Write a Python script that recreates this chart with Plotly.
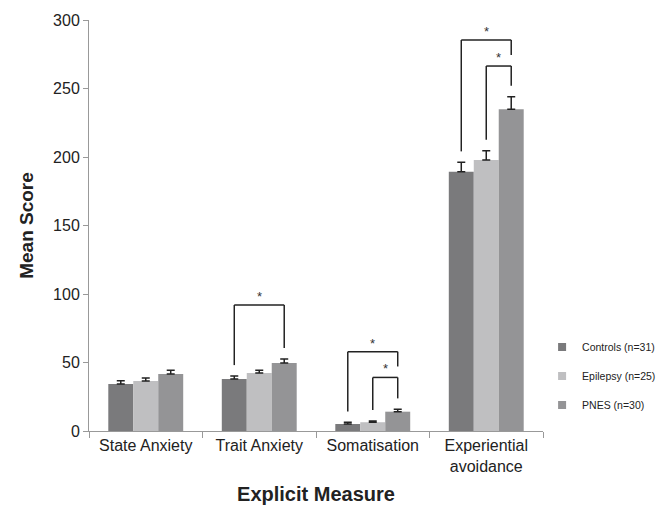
import plotly.graph_objects as go

categories = ["State Anxiety", "Trait Anxiety", "Somatisation", "Experiential<br>avoidance"]
groups = ["Controls (n=31)", "Epilepsy (n=25)", "PNES (n=30)"]
controls = [34.3, 38.0, 5.1, 189.3]
epilepsy = [36.5, 42.3, 6.4, 197.8]
pnes = [41.6, 49.6, 14.1, 234.8]
controls_err = [2.4, 2.1, 1.2, 6.8]
epilepsy_err = [2.2, 2.0, 0.9, 6.8]
pnes_err = [2.7, 3.0, 1.7, 9.2]
colors = ["#7a7a7c", "#bfbfc1", "#949496"]

# significance brackets: category index, group a, group b, bracket level
bracket_cat = [1, 2, 2, 3, 3]
bracket_a = [0, 0, 1, 0, 1]
bracket_b = [2, 2, 2, 2, 2]
bracket_level = [92.0, 57.9, 39.1, 285.4, 266.4]
bracket_label = ["*", "*", "*", "*", "*"]

values = [controls, epilepsy, pnes]
errors = [controls_err, epilepsy_err, pnes_err]

fig = go.Figure()
for i, g in enumerate(groups):
    fig.add_trace(go.Bar(
        x=categories, y=values[i], name=g, marker_color=colors[i],
        marker_line_width=0, showlegend=False,
        error_y=dict(type="data", symmetric=False, array=errors[i],
                     arrayminus=[0] * len(categories), color="#222222",
                     thickness=1.5, width=4),
    ))
# legend entries (small square keys)
for i, g in enumerate(groups):
    fig.add_trace(go.Scatter(
        x=[None], y=[None], mode="markers", name=g, legendgroup=g,
        marker=dict(symbol="square", size=8, color=colors[i]),
    ))

bargap = 0.34
bw = (1 - bargap) / 3
gap = 8.0
line = dict(color="#222222", width=1.5)

def leg_base(k, g):
    c = bracket_cat[k]
    base = values[g][c] + errors[g][c]
    for j in range(len(bracket_cat)):
        if j != k and bracket_cat[j] == c and bracket_level[j] < bracket_level[k] \
                and bracket_a[j] <= g <= bracket_b[j]:
            base = max(base, bracket_level[j])
    return base + gap

for k in range(len(bracket_cat)):
    c = bracket_cat[k]
    xa = c + (bracket_a[k] - 1) * bw
    xb = c + (bracket_b[k] - 1) * bw
    top = bracket_level[k]
    ya = leg_base(k, bracket_a[k])
    yb = leg_base(k, bracket_b[k])
    fig.add_shape(type="line", xref="x", yref="y", x0=xa, x1=xa, y0=ya, y1=top, line=line)
    fig.add_shape(type="line", xref="x", yref="y", x0=xa, x1=xb, y0=top, y1=top, line=line)
    fig.add_shape(type="line", xref="x", yref="y", x0=xb, x1=xb, y0=top, y1=yb, line=line)
    fig.add_annotation(x=(xa + xb) / 2, y=top, xref="x", yref="y", text=bracket_label[k],
                       showarrow=False, yanchor="bottom", yshift=-1,
                       font=dict(size=13, color="#333333"))

font_family = "Arial, 'Liberation Sans', sans-serif"
fig.update_layout(
    width=660, height=500,
    margin=dict(l=81, r=125, t=12, b=77, autoexpand=False),
    paper_bgcolor="white", plot_bgcolor="white",
    barmode="group", bargap=bargap, bargroupgap=0,
    font=dict(family=font_family, color="#222222", size=16),
    legend=dict(x=0.998, y=0.134, xanchor="left", yanchor="middle",
                font=dict(size=10.5, color="#222222"), tracegroupgap=10,
                itemwidth=30, bgcolor="rgba(0,0,0,0)"),
    showlegend=True,
)
fig.update_xaxes(
    showline=True, linecolor="#999999", linewidth=1,
    ticks="outside", tickson="boundaries", ticklen=6, tickcolor="#999999",
    tickfont=dict(size=16, color="#222222"),
    title=dict(text="<b>Explicit Measure</b>", font=dict(size=20, color="#222222"), standoff=12),
)
fig.update_yaxes(
    range=[0, 300], dtick=50, showgrid=False, zeroline=False,
    showline=True, linecolor="#999999", linewidth=1,
    ticks="outside", ticklen=5, tickcolor="#999999",
    tickfont=dict(size=16, color="#222222"),
    title=dict(text="<b>Mean Score</b>", font=dict(size=19, color="#222222"), standoff=14),
)

fig.write_html("out.html")
